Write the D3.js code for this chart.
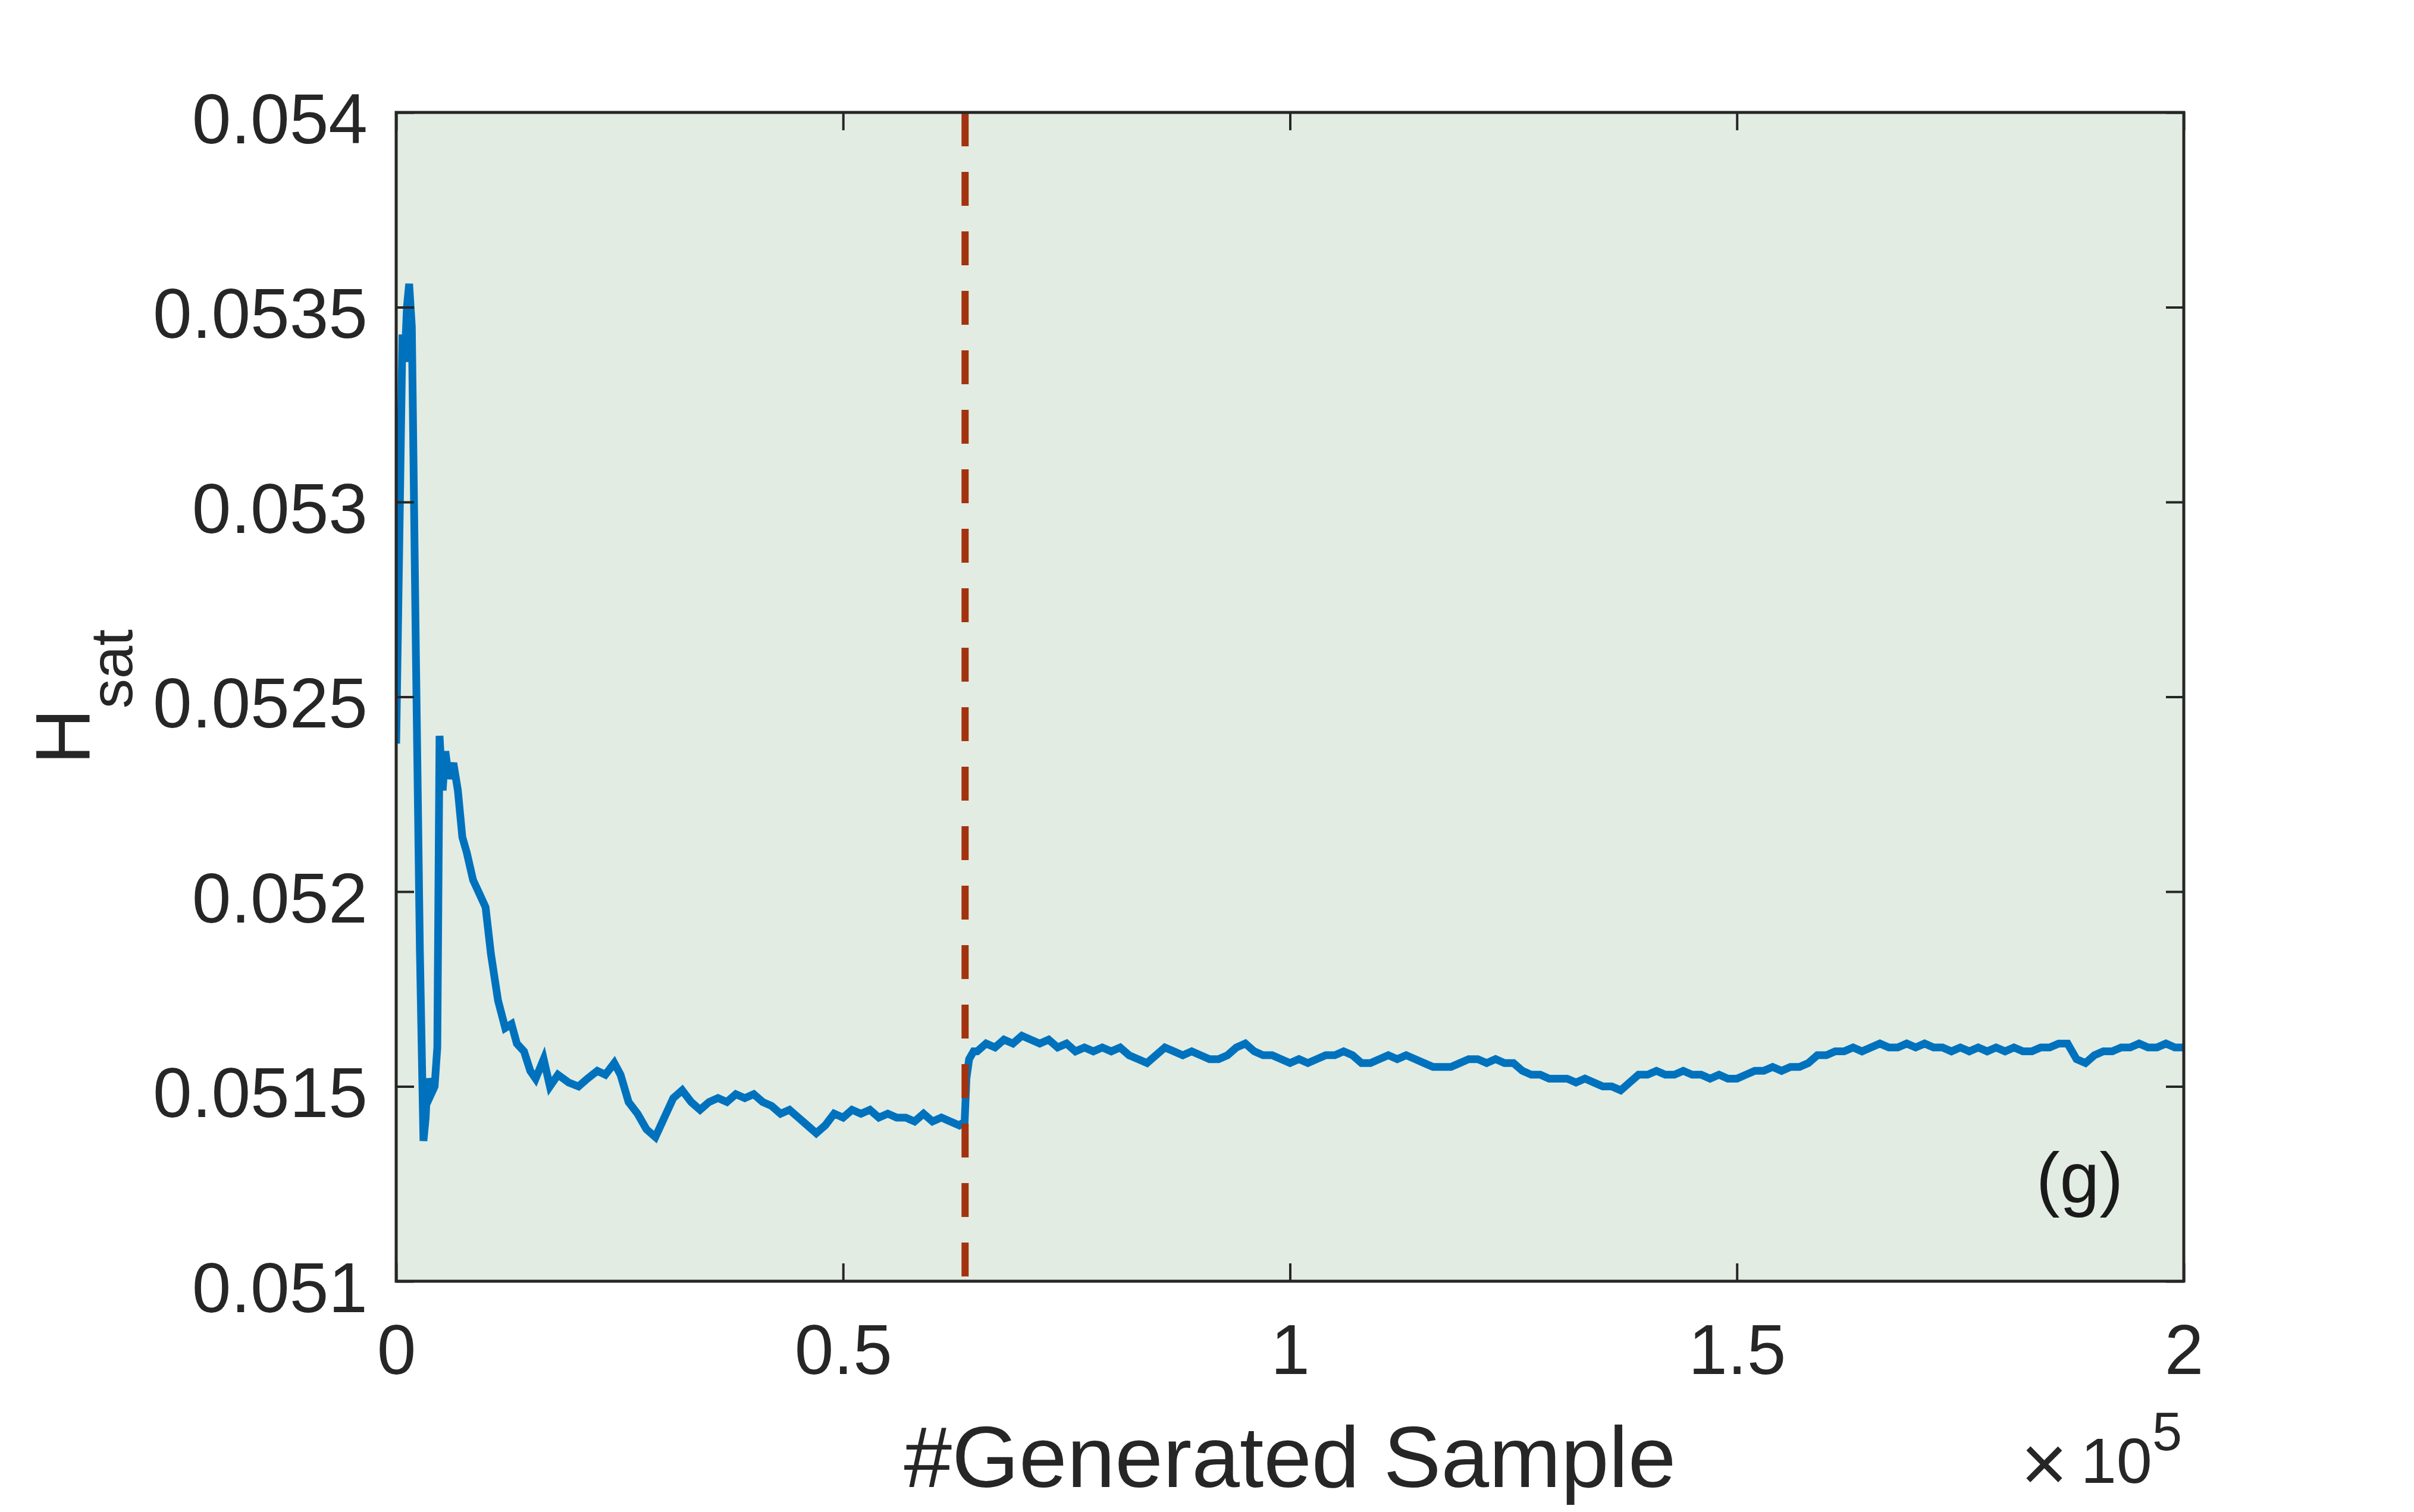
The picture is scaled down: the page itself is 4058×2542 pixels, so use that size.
<!DOCTYPE html>
<html>
<head>
<meta charset="utf-8">
<script src="https://cdn.jsdelivr.net/npm/d3@7"></script>
<style>
  body { margin: 0; background: #fff; }
  text { font-family: "Liberation Sans", Arial, Helvetica, sans-serif; }
</style>
</head>
<body>
<div id="chart"></div>
<script>
// samples generated (raw count) and running H_sat estimate
var sampleCounts = [
    0, 350, 700, 950, 1200, 1450, 1750, 2200, 2650, 3050, 3300, 3500, 3900, 4300, 4600, 4850,
    5200, 5500, 5900, 6400, 6900, 7400, 7900, 8600, 9400, 10000, 10600, 11400, 12200, 12900,
    13500, 14300, 15000, 15600, 16500, 17200, 18100, 19300, 20400, 21400, 22500, 23400, 24400,
    25100, 26000, 27000, 28000, 29000, 30000, 31000, 32000, 33000, 34000, 35000, 36000, 37000,
    38000, 39000, 40000, 41000, 42000, 43000, 44000, 45000, 46000, 47000, 48000, 49000, 50000,
    51000, 52000, 53000, 54000, 55000, 56000, 57000, 58000, 59000, 60000, 61000, 62000, 63000,
    63600, 63800, 64100, 64600,
    65000, 66000, 67000, 68000, 69000, 70000, 71000, 72000, 73000, 74000, 75000, 76000, 77000,
    78000, 79000, 80000, 81000, 82000, 83000, 84000, 85000, 86000, 87000, 88000, 89000, 90000,
    91000, 92000, 93000, 94000, 95000, 96000, 97000, 98000, 99000, 100000, 101000, 102000,
    103000, 104000, 105000, 106000, 107000, 108000, 109000, 110000, 111000, 112000, 113000,
    114000, 115000, 116000, 117000, 118000, 119000, 120000, 121000, 122000, 123000, 124000,
    125000, 126000, 127000, 128000, 129000, 130000, 131000, 132000, 133000, 134000, 135000,
    136000, 137000, 138000, 139000, 140000, 141000, 142000, 143000, 144000, 145000, 146000,
    147000, 148000, 149000, 150000, 151000, 152000, 153000, 154000, 155000, 156000, 157000,
    158000, 159000, 160000, 161000, 162000, 163000, 164000, 165000, 166000, 167000, 168000,
    169000, 170000, 171000, 172000, 173000, 174000, 175000, 176000, 177000, 178000, 179000,
    180000, 181000, 182000, 183000, 184000, 185000, 186000, 187000, 188000, 189000, 190000,
    191000, 192000, 193000, 194000, 195000, 196000, 197000, 198000, 199000, 200000
];
var hsatValues = [
    0.05238, 0.05290, 0.05343, 0.05336, 0.05350, 0.05356, 0.05345, 0.05262, 0.05185, 0.05136,
    0.05142, 0.05152, 0.05148, 0.05150, 0.05160, 0.05240,
    0.05226, 0.05236, 0.05229, 0.05233, 0.05226, 0.05214, 0.05210, 0.05203, 0.05199, 0.05196,
    0.05184, 0.05172, 0.05165, 0.05166, 0.05161, 0.05159, 0.05154, 0.05152, 0.05157, 0.05150,
    0.05153, 0.05151, 0.05150, 0.05152, 0.05154, 0.05153, 0.05156, 0.05153, 0.05146, 0.05143,
    0.05139, 0.05137, 0.05142, 0.05147, 0.05149, 0.05146, 0.05144, 0.05146, 0.05147, 0.05146,
    0.05148, 0.05147, 0.05148, 0.05146, 0.05145, 0.05143, 0.05144, 0.05142, 0.05140, 0.05138,
    0.05140, 0.05143, 0.05142, 0.05144, 0.05143, 0.05144, 0.05142, 0.05143, 0.05142, 0.05142,
    0.05141, 0.05143, 0.05141, 0.05142, 0.05141, 0.05140,
    0.05141, 0.05152, 0.05157, 0.05159,
    0.05159, 0.05161, 0.05160, 0.05162, 0.05161, 0.05163, 0.05162, 0.05161, 0.05162, 0.05160,
    0.05161, 0.05159, 0.05160, 0.05159, 0.05160, 0.05159, 0.05160, 0.05158, 0.05157, 0.05156,
    0.05158, 0.05160, 0.05159, 0.05158, 0.05159, 0.05158, 0.05157, 0.05157, 0.05158, 0.05160,
    0.05161, 0.05159, 0.05158, 0.05158, 0.05157, 0.05156, 0.05157, 0.05156, 0.05157, 0.05158,
    0.05158, 0.05159, 0.05158, 0.05156, 0.05156, 0.05157, 0.05158, 0.05157, 0.05158, 0.05157,
    0.05156, 0.05155, 0.05155, 0.05155, 0.05156, 0.05157, 0.05157, 0.05156, 0.05157, 0.05156,
    0.05156, 0.05154, 0.05153, 0.05153, 0.05152, 0.05152, 0.05152, 0.05151, 0.05152, 0.05151,
    0.05150, 0.05150, 0.05149, 0.05151, 0.05153, 0.05153, 0.05154, 0.05153, 0.05153, 0.05154,
    0.05153, 0.05153, 0.05152, 0.05153, 0.05152, 0.05152, 0.05153, 0.05154, 0.05154, 0.05155,
    0.05154, 0.05155, 0.05155, 0.05156, 0.05158, 0.05158, 0.05159, 0.05159, 0.05160, 0.05159,
    0.05160, 0.05161, 0.05160, 0.05160, 0.05161, 0.05160, 0.05161, 0.05160, 0.05160, 0.05159,
    0.05160, 0.05159, 0.05160, 0.05159, 0.05160, 0.05159, 0.05160, 0.05159, 0.05159, 0.05160,
    0.05160, 0.05161, 0.05161, 0.05157, 0.05156, 0.05158, 0.05159, 0.05159, 0.05160, 0.05160,
    0.05161, 0.05160, 0.05160, 0.05161, 0.05160, 0.05160
];
var splitSample = 63650;
var xTicks = [0, 50000, 100000, 150000, 200000];
var yTicks = [0.051, 0.0515, 0.052, 0.0525, 0.053, 0.0535, 0.054];

var W = 4058, H = 2542;
var margin = {left: 666, top: 189, right: 4058 - 3671, bottom: 2542 - 2154};
var w = W - margin.left - margin.right;
var h = H - margin.top - margin.bottom;
var ink = "#262626";

var svg = d3.select("#chart").append("svg")
    .attr("width", W)
    .attr("height", H);

svg.append("rect").attr("width", W).attr("height", H).attr("fill", "#fff");

var g = svg.append("g").attr("transform", "translate(" + margin.left + "," + margin.top + ")");

var x = d3.scaleLinear().domain([0, 200000]).range([0, w]);
var y = d3.scaleLinear().domain([0.051, 0.054]).range([h, 0]);

g.append("rect")
    .attr("width", w)
    .attr("height", h)
    .attr("fill", "#e2ece3");

g.append("clipPath").attr("id", "plotclip")
    .append("rect").attr("width", w).attr("height", h);

var data = sampleCounts.map(function(d, i) { return [d, hsatValues[i]]; });

var line = d3.line()
    .x(function(d) { return x(d[0]); })
    .y(function(d) { return y(d[1]); });

g.append("path")
    .datum(data)
    .attr("clip-path", "url(#plotclip)")
    .attr("fill", "none")
    .attr("stroke", "#0072bd")
    .attr("stroke-width", 13)
    .attr("stroke-linejoin", "miter")
    .attr("d", line);

g.append("line")
    .attr("x1", x(splitSample)).attr("x2", x(splitSample))
    .attr("y1", 0).attr("y2", h)
    .attr("stroke", "#a3330e")
    .attr("stroke-width", 12)
    .attr("stroke-dasharray", "57,43");

// axes
var xAxis = g.append("g")
    .attr("transform", "translate(0," + h + ")")
    .call(d3.axisBottom(x).tickValues(xTicks).tickSize(-30)
        .tickFormat(function(d) { return String(d / 1e5); }));
var xTop = g.append("g")
    .call(d3.axisTop(x).tickValues(xTicks).tickSize(-30).tickFormat(""));
var yAxis = g.append("g")
    .call(d3.axisLeft(y).tickValues(yTicks).tickSize(-30)
        .tickFormat(function(d) { return String(+d.toFixed(4)); }));
var yRight = g.append("g")
    .attr("transform", "translate(" + w + ",0)")
    .call(d3.axisRight(y).tickValues(yTicks).tickSize(-30).tickFormat(""));

[xAxis, xTop, yAxis, yRight].forEach(function(a) {
    a.select(".domain").remove();
    a.selectAll(".tick line").attr("stroke", ink).attr("stroke-width", 4);
});

xAxis.selectAll(".tick text")
    .attr("y", 156).attr("dy", null)
    .attr("font-size", "118px")
    .attr("fill", ink);

yAxis.selectAll(".tick text")
    .attr("x", -48).attr("dy", null).attr("y", 51)
    .attr("text-anchor", "end")
    .attr("font-size", "118px")
    .attr("fill", ink);

g.append("rect")
    .attr("width", w)
    .attr("height", h)
    .attr("fill", "none")
    .attr("stroke", ink)
    .attr("stroke-width", 5);

// labels
svg.append("text")
    .attr("x", margin.left + w / 2)
    .attr("y", 2500)
    .attr("text-anchor", "middle")
    .attr("font-size", "145px")
    .attr("fill", ink)
    .text("#Generated Sample");

var expo = svg.append("text")
    .attr("x", 3668)
    .attr("y", 2493)
    .attr("text-anchor", "end")
    .attr("fill", ink)
    .attr("font-size", "108px");
expo.append("tspan").attr("font-size", "135px").attr("dy", 14).text("\u00d7");
expo.append("tspan").attr("dx", 22).attr("dy", -14).text("10");
expo.append("tspan").attr("font-size", "90px").attr("dy", -55).text("5");

var ylab = svg.append("text")
    .attr("transform", "translate(150," + (margin.top + h / 2) + ") rotate(-90)")
    .attr("text-anchor", "middle")
    .attr("fill", ink)
    .attr("font-size", "130px");
ylab.append("tspan").text("H");
ylab.append("tspan").attr("font-size", "100px").attr("dy", 72).text("sat");

g.append("text")
    .attr("x", 3496 - margin.left)
    .attr("y", 2022 - margin.top)
    .attr("text-anchor", "middle")
    .attr("font-size", "120px")
    .attr("fill", "#1a1a1a")
    .text("(g)");
</script>
</body>
</html>
